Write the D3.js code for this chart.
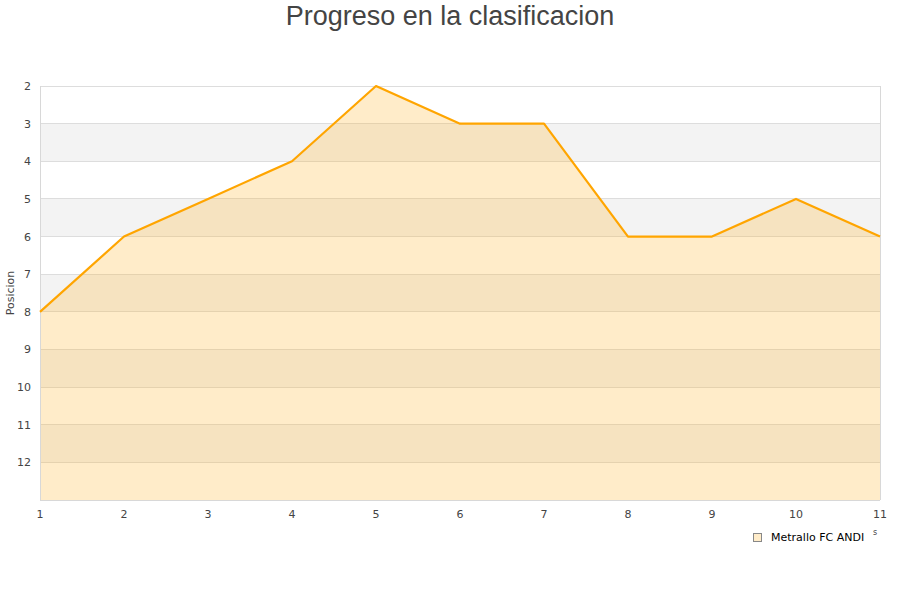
<!DOCTYPE html>
<html><head><meta charset="utf-8">
<script src="https://cdn.jsdelivr.net/npm/d3@7"></script>
<style>body{margin:0;background:#fff;font-family:"DejaVu Sans",sans-serif;}</style>
</head><body>
<script>
const jornadas = [1,2,3,4,5,6,7,8,9,10,11];
const posiciones = [8,6,5,4,2,3,3,6,6,5,6];
const yTicks = [2,3,4,5,6,7,8,9,10,11,12];
const seriesName = "Metrallo FC ANDI";
const title = "Progreso en la clasificacion";
const yLabel = "Posicion";

const W = 900, H = 600;
const m = {left:40, right:20, top:86, bottom:100};
const svg = d3.select("body").append("svg").attr("width",W).attr("height",H);

const x = d3.scaleLinear().domain([1,11]).range([m.left, W-m.right]);
const y = d3.scaleLinear().domain([2,13]).range([m.top, H-m.bottom]);

// bands
const bands = d3.range(2,13);
svg.append("g").selectAll("rect").data(bands).join("rect")
  .attr("x", x(1)).attr("width", x(11)-x(1))
  .attr("y", d=>y(d)).attr("height", d=>y(d+1)-y(d))
  .attr("fill", d=> d%2===1 ? "#f3f3f3" : "#ffffff");

// grid lines
svg.append("g").selectAll("line").data(d3.range(2,14)).join("line")
  .attr("x1", x(1)).attr("x2", x(11))
  .attr("y1", d=>y(d)).attr("y2", d=>y(d))
  .attr("stroke", "#dddddd").attr("stroke-width",1).attr("shape-rendering","crispEdges");

// area
const data = jornadas.map((j,i)=>({j, p:posiciones[i]}));
svg.append("path").datum(data)
  .attr("d", d3.area().x(d=>x(d.j)).y0(y(13)).y1(d=>y(d.p)))
  .attr("fill","rgba(255,180,40,0.25)");

// borders
svg.append("line").attr("x1",x(1)).attr("x2",x(1)).attr("y1",y(2)).attr("y2",y(13))
  .attr("stroke","#d8d8d8").attr("shape-rendering","crispEdges");
svg.append("line").attr("x1",x(11)).attr("x2",x(11)).attr("y1",y(2)).attr("y2",y(13))
  .attr("stroke","#d8d8d8").attr("shape-rendering","crispEdges");
svg.append("line").attr("x1",x(1)).attr("x2",x(11)).attr("y1",y(13)).attr("y2",y(13))
  .attr("stroke","#d8d8d8").attr("shape-rendering","crispEdges");

// line
svg.append("path").datum(data)
  .attr("d", d3.line().x(d=>x(d.j)).y(d=>y(d.p)))
  .attr("fill","none").attr("stroke","#ffa500").attr("stroke-width",2.2)
  .attr("stroke-linejoin","round");

// y axis labels
svg.append("g").selectAll("text").data(yTicks).join("text")
  .attr("x", 31).attr("y", d=>y(d)+4).attr("text-anchor","end")
  .attr("font-size",11).attr("fill","#444").text(d=>d);

// x axis labels
svg.append("g").selectAll("text").data(jornadas).join("text")
  .attr("x", d=>x(d)).attr("y", 518).attr("text-anchor","middle")
  .attr("font-size",11).attr("fill","#444").text(d=>d);

// y label
svg.append("text").attr("transform",`translate(14,${(y(2)+y(13))/2}) rotate(-90)`)
  .attr("text-anchor","middle").attr("font-size",11).attr("fill","#444").text(yLabel);

// title
svg.append("text").attr("x",450).attr("y",25).attr("text-anchor","middle")
  .attr("font-family","'Liberation Sans', Arial, sans-serif")
  .attr("font-size",27).attr("fill","#444").text(title);

// legend
svg.append("rect").attr("x",753.5).attr("y",533.5).attr("width",8).attr("height",8)
  .attr("fill","#ffecc9").attr("stroke","#888").attr("stroke-width",1);
svg.append("text").attr("x",771).attr("y",541).attr("font-size",11).attr("fill","#000").text(seriesName);
svg.append("text").attr("x",873).attr("y",535).attr("font-size",8).attr("fill","#444").text("s");
</script>
</body></html>
